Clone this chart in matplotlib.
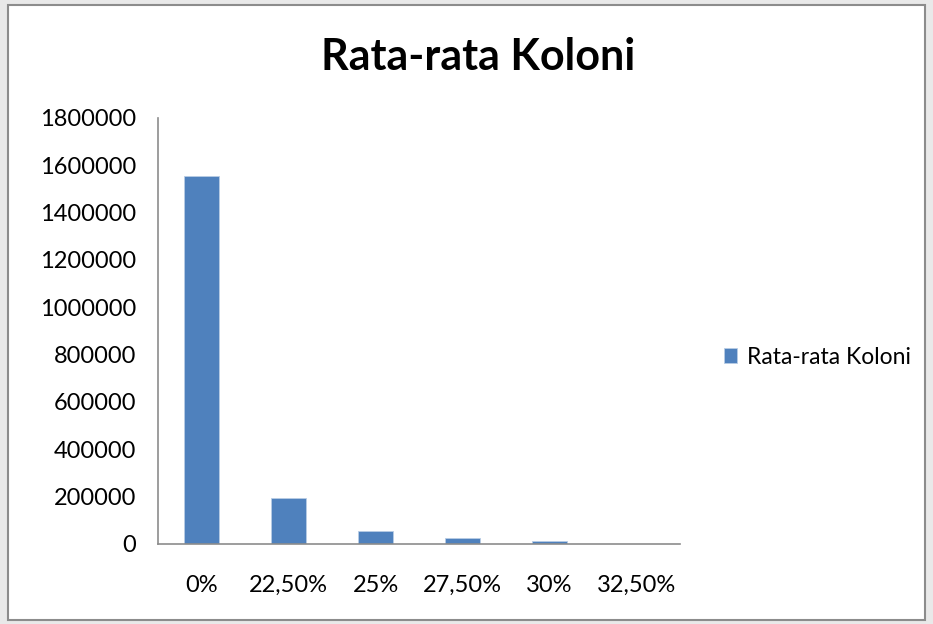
import matplotlib
matplotlib.use("Agg")
import matplotlib.pyplot as plt
from matplotlib.patches import Rectangle

categories = ["0%", "22,50%", "25%", "27,50%", "30%", "32,50%"]
values = [1555000, 195000, 57000, 27000, 11000, 0]
series_name = "Rata-rata Koloni"
title = "Rata-rata Koloni"

plt.rcParams['font.family'] = ['Lato', 'DejaVu Sans']

W, H = 933, 624
fig = plt.figure(figsize=(W/100, H/100), dpi=100)
fig.patch.set_facecolor('#e9e9e9')
bg = Rectangle((8/W, 1-620/H), (925-8)/W, (620-5)/H, transform=fig.transFigure,
               facecolor='white', edgecolor='#8c8c8c', linewidth=1.5, zorder=-10)
fig.patches.append(bg)

ax = fig.add_axes([158/W, 1-544/H, (680-158)/W, (544-118)/H])
ax.set_zorder(5)
ax.set_facecolor('none')
x = list(range(len(categories)))
bars = ax.bar(x, values, width=0.4, color='#4f81bd', edgecolor='#b9cde5', linewidth=0.6, label=series_name)
ax.set_xlim(-0.5, len(categories)-0.5)
ax.set_ylim(0, 1800000)
ax.set_yticks(range(0, 1800001, 200000))
ax.set_yticklabels([str(v) for v in range(0, 1800001, 200000)], fontsize=17)
ax.set_xticks(x)
ax.set_xticklabels(categories, fontsize=17)
for s in ['top', 'right']:
    ax.spines[s].set_visible(False)
for s in ['left', 'bottom']:
    ax.spines[s].set_color('#8c8c8c')
    ax.spines[s].set_linewidth(1.2)
ax.tick_params(axis='y', length=0, pad=16)
ax.tick_params(axis='x', length=0, pad=22)
ax.tick_params(colors='black')

t = fig.text(478/W, 1-57/H, title, fontsize=31, fontweight='bold', ha='center', va='center')
t.set_zorder(6)

leg = fig.legend(handles=[bars], labels=[series_name], loc='center left',
           bbox_to_anchor=(703/W, 1-357/H), frameon=False, fontsize=16.5,
           handlelength=0.6, handleheight=0.6, handletextpad=0.4)
leg.set_zorder(6)

fig.savefig('out.png', dpi=100, facecolor=fig.get_facecolor())
